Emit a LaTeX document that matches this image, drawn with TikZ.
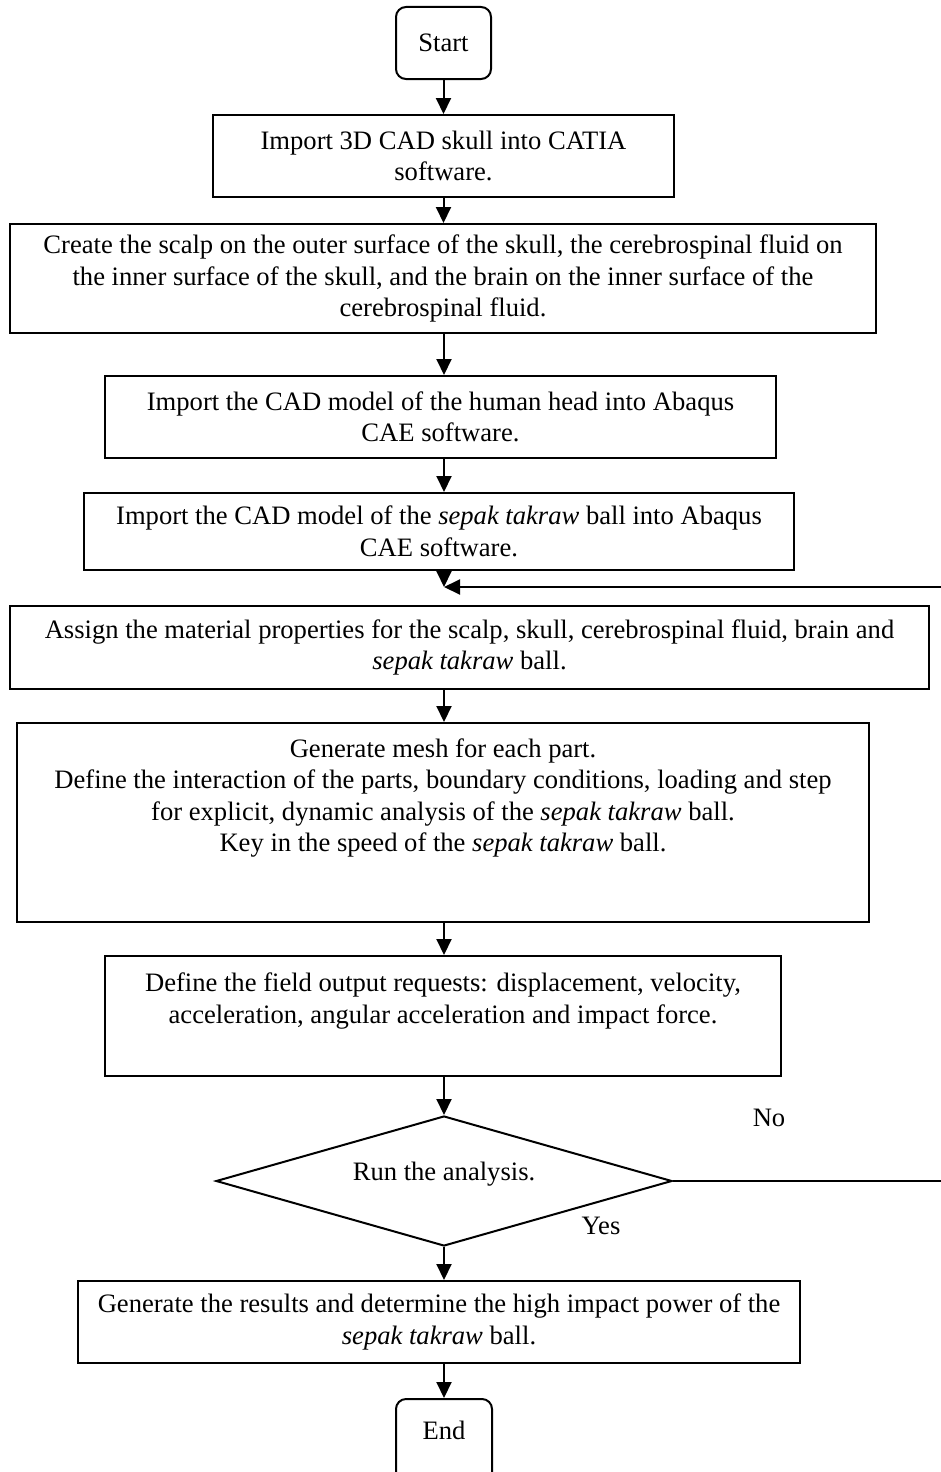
\documentclass[tikz,border=0pt]{standalone}
\usepackage{fontspec}
\setmainfont{Liberation Serif}
\usetikzlibrary{arrows.meta,shapes.geometric}
\begin{document}
\begin{tikzpicture}[x=1pt,y=-1pt,
  every node/.style={font=\fontsize{26.6}{31.5}\selectfont},
  box/.style={draw, line width=2pt, inner sep=0pt, align=center},
  term/.style={box, rounded corners=10pt},
  txt/.style={inner sep=0pt, align=center},
  dec/.style={draw, diamond, line width=2pt, inner sep=0pt, minimum width=456pt, minimum height=130pt},
  arr/.style={line width=2pt, -{Triangle[width=15pt,length=16pt]}},
  ln/.style={line width=2pt}]
\useasboundingbox (0,0) rectangle (940,1472);

\node[term, minimum width=95pt, minimum height=72pt] (start) at (443.5,43) {Start};
\node[box, minimum width=461pt, minimum height=82pt] (b1) at (443.5,156)
  {Import 3D CAD skull into CATIA\\software.};
\node[box, minimum width=866pt, minimum height=109pt] (b2) at (443,278.5)
  {Create the scalp on the outer surface of the skull, the cerebrospinal fluid on\\
   the inner surface of the skull, and the brain on the inner surface of the\\
   cerebrospinal fluid.};
\node[box, minimum width=671pt, minimum height=82pt] (b3) at (440.5,417)
  {Import the CAD model of the human head into Abaqus\\CAE software.};
\node[box, minimum width=710pt, minimum height=77pt] (b4) at (439,531.5)
  {Import the CAD model of the \textit{sepak takraw} ball into Abaqus\\CAE software.};
\node[box, minimum width=919pt, minimum height=83pt] (b5) at (469.5,647.5)
  {Assign the material properties for the scalp, skull, cerebrospinal fluid, brain and\\
   \textit{sepak takraw} ball.};
\node[box, minimum width=852pt, minimum height=199pt] (b6) at (443,822.5) {};
\node[txt] (t6) at (443,798)
  {Generate mesh for each part.\\
   Define the interaction of the parts, boundary conditions, loading and step\\
   for explicit, dynamic analysis of the \textit{sepak takraw} ball.\\
   Key in the speed of the \textit{sepak takraw} ball.};
\node[box, minimum width=676pt, minimum height=120pt] (b7) at (443,1016) {};
\node[txt] (t7) at (443,1001)
  {Define the field output requests: displacement, velocity,\\
   acceleration, angular acceleration and impact force.};
\node[dec] (dia) at (444,1181) {};
\node[txt] (td) at (444,1174) {Run the analysis.};
\node[txt] (no) at (769,1118) {No};
\node[txt] (yes) at (601,1226) {Yes};
\node[box, minimum width=722pt, minimum height=82pt] (b8) at (439,1322)
  {Generate the results and determine the high impact power of the\\
   \textit{sepak takraw} ball.};
\node[term, minimum width=96pt, minimum height=91pt] (end) at (444,1444.5) {};
\node[txt] (te) at (444,1430) {End};

\coordinate (j) at (444,587);
\coordinate (rc) at (943,587);

\draw[arr] (start.south) -- (start.south |- b1.north);
\draw[arr] (b1.south) -- (b1.south |- b2.north);
\draw[arr] (b2.south -| j) -- (j |- b3.north);
\draw[arr] (b3.south -| j) -- (j |- b4.north);
\draw[arr] (b4.south -| j) -- (j);
\draw[arr] (dia.east) -- (dia.east -| rc) -- (rc) -- (j);
\draw[arr] (b5.south -| j) -- (j |- b6.north);
\draw[arr] (b6.south -| j) -- (j |- b7.north);
\draw[arr] (b7.south -| j) -- (dia.north);
\draw[arr] (dia.south) -- (dia.south |- b8.north);
\draw[arr] (b8.south -| end.north) -- (end.north);
\end{tikzpicture}
\end{document}
